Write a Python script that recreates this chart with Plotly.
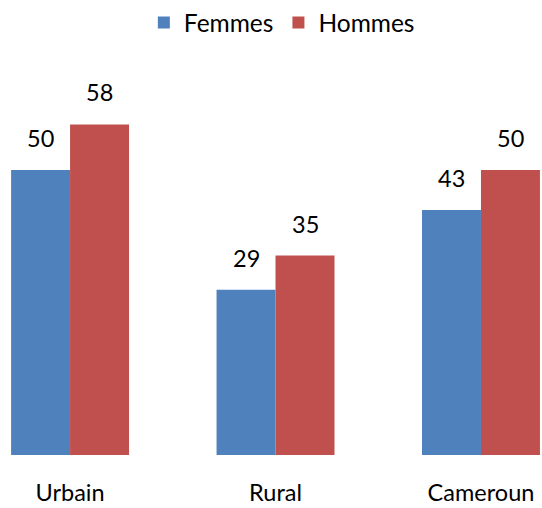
import plotly.graph_objects as go

categories = ["Urbain", "Rural", "Cameroun"]
femmes = [50, 29, 43]
hommes = [58, 35, 50]

blue = "#4F81BD"
red = "#C0504D"
font_family = "Lato, 'Open Sans', sans-serif"

fig = go.Figure()
fig.add_trace(go.Bar(name="Femmes", x=categories, y=femmes, marker_color=blue, marker_line_width=0))
fig.add_trace(go.Bar(name="Hommes", x=categories, y=hommes, marker_color=red, marker_line_width=0))

half = 29.5
for vals, sh in ((femmes, -half), (hommes, half)):
    for c, v in zip(categories, vals):
        fig.add_annotation(x=c, y=v, text=str(v), showarrow=False, xshift=sh,
                           yanchor="bottom", yshift=16,
                           font=dict(size=23.5, color="black", family=font_family))

fig.update_layout(
    width=542, height=508,
    margin=dict(l=0, r=0, t=60, b=53),
    paper_bgcolor="white", plot_bgcolor="white",
    barmode="group", bargap=0.426, bargroupgap=0,
    font=dict(family=font_family, size=24, color="black"),
    legend=dict(orientation="h", x=0.52, xanchor="center", y=1.0, yref="container",
                yanchor="top", font=dict(size=24.5), itemwidth=30, traceorder="normal"),
    xaxis=dict(range=[-0.341, 2.297], showline=False, showgrid=False, zeroline=False,
               ticks="outside", ticklen=17, tickcolor="rgba(0,0,0,0)",
               tickfont=dict(size=23.5), automargin=False),
    yaxis=dict(range=[0, 69.3], visible=False, showgrid=False, zeroline=False,
               automargin=False),
)

fig.write_html("out.html", config={"displayModeBar": False},
               post_script="document.body.style.margin='0';")
